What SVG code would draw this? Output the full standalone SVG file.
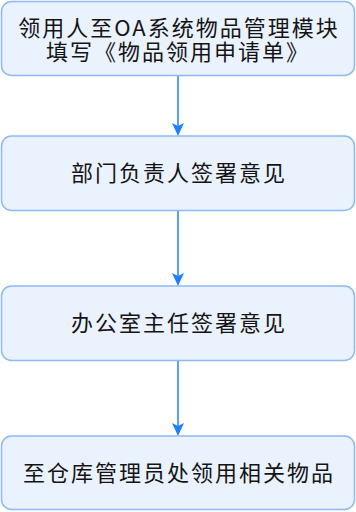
<svg xmlns="http://www.w3.org/2000/svg" width="356" height="512" viewBox="0 0 356 512">
<style>
.box{fill:#EAF2FE;stroke:#8DB9F7;stroke-width:1.5}
.t{font-family:"Noto Sans CJK SC","Noto Sans",sans-serif;font-size:22px;fill:#141414;text-anchor:middle;letter-spacing:2px}
.c{stroke:#1E7FFF;stroke-width:1.5;fill:none}
</style>
<g id="connectors">
<path class="c" d="M178,75.5 V134"/>
<path d="M172,123 L178,126 L184,123 L178,136 Z" fill="#1E7FFF"/>
<path class="c" d="M178,210.5 V284"/>
<path d="M172,273 L178,276 L184,273 L178,286 Z" fill="#1E7FFF"/>
<path class="c" d="M178,360.5 V434"/>
<path d="M172,423 L178,426 L184,423 L178,436 Z" fill="#1E7FFF"/>
</g>
<g id="n1">
<rect class="box" x="1.5" y="1.5" width="353" height="74" rx="10"/>
<text class="t"><tspan x="179" y="35.5">领用人至OA系统物品管理模块</tspan><tspan x="178" y="60">填写《物品领用申请单》</tspan></text>
</g>
<g id="n2">
<rect class="box" x="1.5" y="136" width="353" height="74.5" rx="10"/>
<text class="t" x="179" y="180.5">部门负责人签署意见</text>
</g>
<g id="n3">
<rect class="box" x="1.5" y="286" width="353" height="74.5" rx="10"/>
<text class="t" x="179" y="330.5">办公室主任签署意见</text>
</g>
<g id="n4">
<rect class="box" x="1.5" y="436" width="353" height="73.5" rx="10"/>
<text class="t" x="179" y="480.5">至仓库管理员处领用相关物品</text>
</g>
</svg>
